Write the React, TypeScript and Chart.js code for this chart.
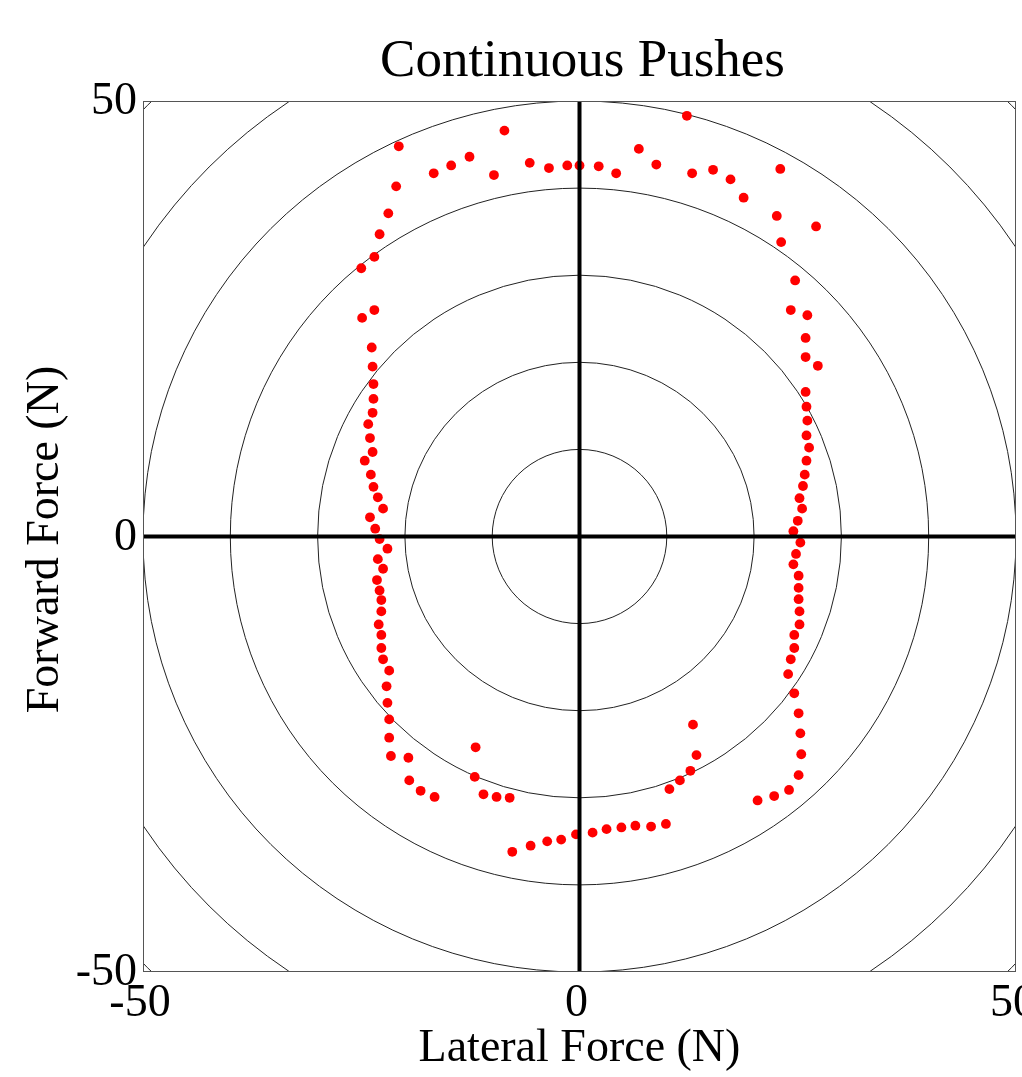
import React, { useEffect, useRef } from "react";
import { Chart, registerables } from "chart.js";

Chart.register(...registerables);

const titleText = "Continuous Pushes";
const xAxisTitle = "Lateral Force (N)";
const yAxisTitle = "Forward Force (N)";
const xTicks = [-50, 0, 50];
const yTicks = [-50, 0, 50];
const ringRadii = [10, 20, 30, 40, 50, 60, 70];

// Lateral force (N)
const lateralForce = [
  -20.7, -21.0, -21.9, -22.9, -16.7, -14.7, -12.6, -8.6, -9.8, -5.7, -3.5, -1.4, 0.0,
  2.2, 4.2, 6.8, 8.8, 12.3, 12.9, 15.3, 17.3, 18.8, 23.0, 22.6, 27.1, 23.1,
  -23.5, -25.0, -23.5, -24.9, -23.8, -23.7, -23.6, -23.6, -23.7, -24.2, -24.0, -23.7, -24.6,
  -23.9, -23.6, -23.1, -22.5, -24.0, -23.4, -22.9, -22.0, -23.1, -22.5, -23.2, -22.9, -22.7,
  -22.7, -23.0, -22.7, -22.7, -22.5, -21.8, -22.1, -22.0, -21.8, -21.8, -21.6, -19.6, -19.5,
  -18.2, -16.6, -11.9, -12.0, -11.0, -9.5, -8.0,
  -7.7, -5.6, -3.7, -2.1, -0.4, 1.5, 3.1, 4.8, 6.4, 8.2, 9.9,
  13.0, 13.4, 12.7, 11.5, 10.3, 20.4, 22.3, 24.0, 25.1, 25.4, 25.3, 25.1, 24.6, 23.9, 24.2,
  24.6, 24.6, 25.2, 25.2, 25.1, 25.1, 25.1, 24.5, 24.8, 25.3, 24.5,
  25.0, 25.5, 25.2, 25.6, 25.8, 26.0, 26.3, 26.0, 26.1, 26.0, 25.9, 27.3, 25.9, 25.9, 26.1,
  24.2, 24.7,
];

// Forward force (N)
const forwardForce = [
  44.8, 40.2, 37.1, 34.7, 41.7, 42.6, 43.6, 46.6, 41.5, 42.9, 42.3, 42.6, 42.6,
  42.5, 41.7, 44.5, 42.7, 48.3, 41.7, 42.1, 41.0, 38.9, 42.2, 36.8, 35.6, 33.8,
  32.1, 30.8, 26.0, 25.1, 21.7, 19.5, 17.5, 15.8, 14.2, 12.9, 11.3, 9.7, 8.7,
  7.1, 5.7, 4.5, 3.2, 2.2, 0.9, -0.3, -1.4, -2.6, -3.7, -5.0, -6.2, -7.3,
  -8.6, -10.1, -11.3, -12.8, -14.1, -15.4, -17.2, -19.1, -21.0, -23.1, -25.2, -25.4, -28.0,
  -29.2, -29.9, -24.2, -27.6, -29.6, -29.9, -30.0,
  -36.2, -35.5, -35.0, -34.8, -34.2, -34.0, -33.6, -33.4, -33.2, -33.3, -33.0,
  -21.6, -25.1, -26.9, -28.0, -29.0, -30.3, -29.8, -29.1, -27.4, -25.0, -22.6, -20.3, -18.0, -15.8, -14.1,
  -12.8, -11.3, -10.1, -8.6, -7.2, -5.9, -4.5, -3.2, -2.0, -0.7, 0.6,
  1.8, 3.2, 4.4, 5.8, 7.1, 8.7, 10.2, 11.6, 13.3, 14.9, 16.6, 19.6, 20.6, 22.8, 25.4,
  26.0, 29.4,
];

const FONT = '"Liberation Serif", "Times New Roman", serif';

export default function App() {
  const canvasRef = useRef<HTMLCanvasElement | null>(null);

  useEffect(() => {
    const canvas = canvasRef.current;
    if (!canvas) return;

    const points = lateralForce.map((x, i) => ({ x, y: forwardForce[i] }));

    const backgroundPlugin = {
      id: "polarBackground",
      beforeDatasetsDraw(chart: any) {
        const { ctx, chartArea, scales } = chart;
        const xs = scales.x;
        const ys = scales.y;
        const cx = xs.getPixelForValue(0);
        const cy = ys.getPixelForValue(0);
        ctx.save();
        ctx.fillStyle = "#ffffff";
        ctx.fillRect(chartArea.left, chartArea.top, chartArea.right - chartArea.left, chartArea.bottom - chartArea.top);
        ctx.beginPath();
        ctx.rect(chartArea.left, chartArea.top, chartArea.right - chartArea.left, chartArea.bottom - chartArea.top);
        ctx.clip();
        ctx.strokeStyle = "#222222";
        ctx.lineWidth = 1;
        ringRadii.forEach((r) => {
          const rx = Math.abs(xs.getPixelForValue(r) - cx);
          const ry = Math.abs(ys.getPixelForValue(r) - cy);
          ctx.beginPath();
          ctx.ellipse(cx, cy, rx, ry, 0, 0, Math.PI * 2);
          ctx.stroke();
        });
        ctx.restore();
      },
      afterDatasetsDraw(chart: any) {
        const { ctx, chartArea, scales } = chart;
        const xs = scales.x;
        const ys = scales.y;
        const cx = xs.getPixelForValue(0);
        const cy = ys.getPixelForValue(0);
        ctx.save();
        // axes lines through origin
        ctx.strokeStyle = "#000000";
        ctx.lineWidth = 4;
        ctx.beginPath();
        ctx.moveTo(chartArea.left, cy);
        ctx.lineTo(chartArea.right, cy);
        ctx.moveTo(cx, chartArea.top);
        ctx.lineTo(cx, chartArea.bottom);
        ctx.stroke();
        // border box
        ctx.strokeStyle = "#555555";
        ctx.lineWidth = 1;
        ctx.strokeRect(chartArea.left + 0.5, chartArea.top + 0.5, chartArea.right - chartArea.left - 1, chartArea.bottom - chartArea.top - 1);

        // tick labels
        ctx.fillStyle = "#000000";
        ctx.font = `46px ${FONT}`;
        ctx.textAlign = "right";
        ctx.textBaseline = "middle";
        yTicks.forEach((v) => {
          ctx.fillText(String(v), chartArea.left - 6, ys.getPixelForValue(v) + 1);
        });
        ctx.textAlign = "center";
        ctx.textBaseline = "middle";
        xTicks.forEach((v) => {
          ctx.fillText(String(v), xs.getPixelForValue(v) - 3, chartArea.bottom + 32);
        });

        // axis titles
        ctx.font = `46px ${FONT}`;
        ctx.fillText(xAxisTitle, (chartArea.left + chartArea.right) / 2, chartArea.bottom + 77);
        ctx.save();
        ctx.translate(46, (chartArea.top + chartArea.bottom) / 2 + 3);
        ctx.rotate(-Math.PI / 2);
        ctx.fillText(yAxisTitle, 0, 0);
        ctx.restore();

        // title
        ctx.font = `53px ${FONT}`;
        ctx.textBaseline = "alphabetic";
        ctx.fillText(titleText, (chartArea.left + chartArea.right) / 2 + 3, 76);
        ctx.restore();
      },
    };

    const chart = new Chart(canvas, {
      type: "scatter",
      data: {
        datasets: [
          {
            data: points,
            backgroundColor: "#ff0000",
            borderColor: "#ff0000",
            borderWidth: 0,
            pointRadius: 4.9,
            pointHoverRadius: 4.9,
          },
        ],
      },
      options: {
        responsive: true,
        maintainAspectRatio: false,
        animation: false,
        layout: { padding: { left: 143, top: 101, right: 6, bottom: 105 } },
        scales: {
          x: { type: "linear", min: -50, max: 50, display: false },
          y: { type: "linear", min: -50, max: 50, display: false },
        },
        plugins: {
          legend: { display: false },
          tooltip: { enabled: false },
          title: { display: false },
        },
        events: [],
      },
      plugins: [backgroundPlugin],
    });

    return () => {
      chart.destroy();
    };
  }, []);

  return (
    <div style={{ position: "absolute", left: 0, top: 0, width: 1022, height: 1077, background: "#ffffff", overflow: "hidden" }}>
      <canvas ref={canvasRef} />
    </div>
  );
}
